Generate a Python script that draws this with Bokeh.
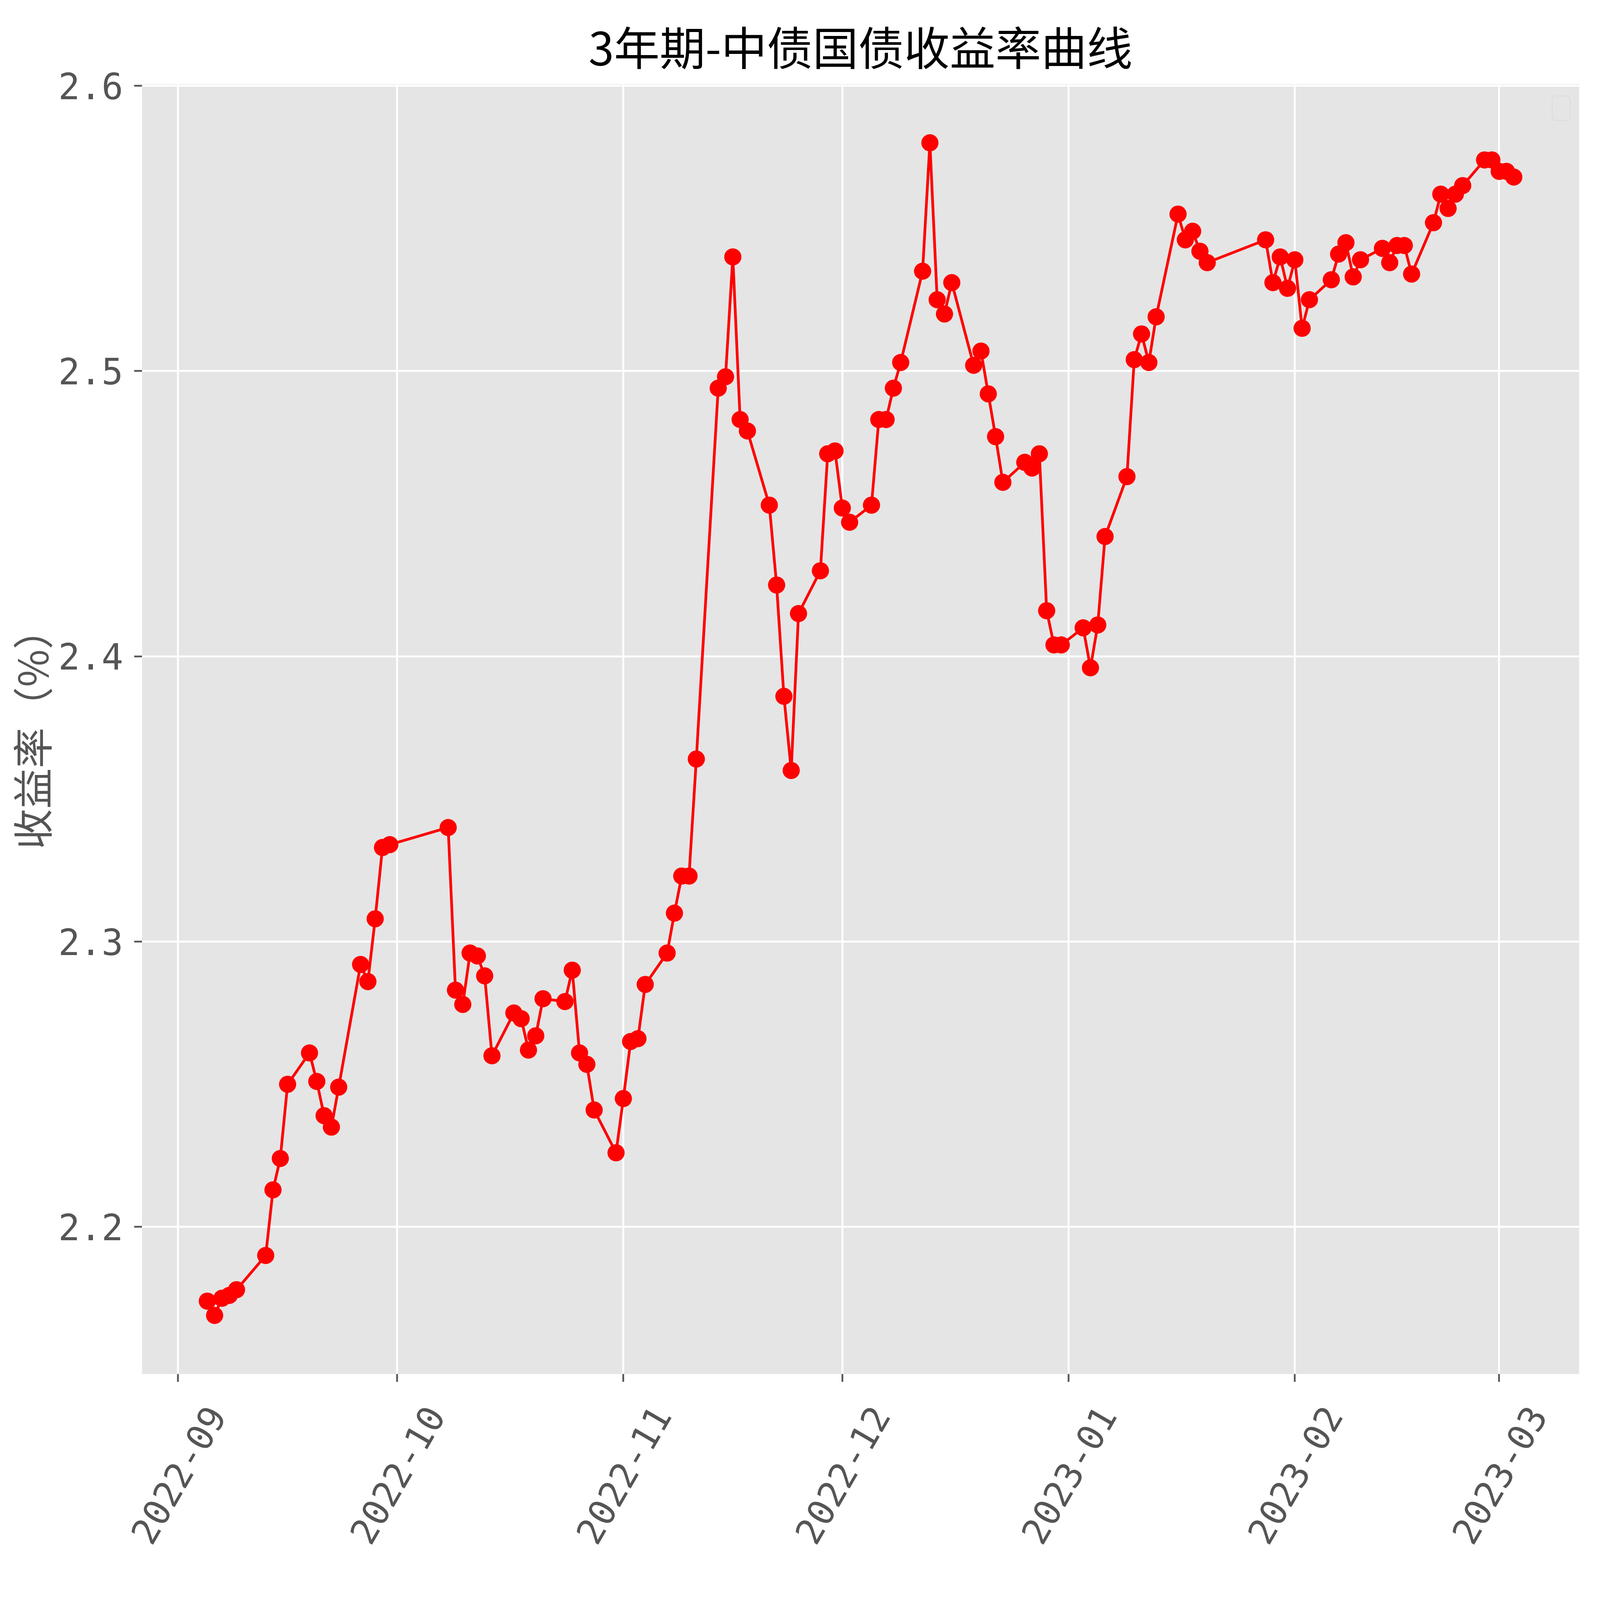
import math
import pandas as pd
from bokeh.plotting import figure
from bokeh.models import (FixedTicker, Range1d, BoxAnnotation, PrintfTickFormatter,
                          DatetimeAxis, DatetimeTickFormatter)
from bokeh.embed import file_html
from bokeh.resources import INLINE

# ---------------- data ----------------
dates = [
    "2022-09-05", "2022-09-06", "2022-09-07", "2022-09-08", "2022-09-09",
    "2022-09-13", "2022-09-14", "2022-09-15", "2022-09-16",
    "2022-09-19", "2022-09-20", "2022-09-21", "2022-09-22", "2022-09-23",
    "2022-09-26", "2022-09-27", "2022-09-28", "2022-09-29", "2022-09-30",
    "2022-10-08", "2022-10-09", "2022-10-10", "2022-10-11", "2022-10-12", "2022-10-13", "2022-10-14",
    "2022-10-17", "2022-10-18", "2022-10-19", "2022-10-20", "2022-10-21",
    "2022-10-24", "2022-10-25", "2022-10-26", "2022-10-27", "2022-10-28",
    "2022-10-31", "2022-11-01", "2022-11-02", "2022-11-03", "2022-11-04",
    "2022-11-07", "2022-11-08", "2022-11-09", "2022-11-10", "2022-11-11",
    "2022-11-14", "2022-11-15", "2022-11-16", "2022-11-17", "2022-11-18",
    "2022-11-21", "2022-11-22", "2022-11-23", "2022-11-24", "2022-11-25",
    "2022-11-28", "2022-11-29", "2022-11-30", "2022-12-01", "2022-12-02",
    "2022-12-05", "2022-12-06", "2022-12-07", "2022-12-08", "2022-12-09",
    "2022-12-12", "2022-12-13", "2022-12-14", "2022-12-15", "2022-12-16",
    "2022-12-19", "2022-12-20", "2022-12-21", "2022-12-22", "2022-12-23",
    "2022-12-26", "2022-12-27", "2022-12-28", "2022-12-29", "2022-12-30", "2022-12-31",
    "2023-01-03", "2023-01-04", "2023-01-05", "2023-01-06",
    "2023-01-09", "2023-01-10", "2023-01-11", "2023-01-12", "2023-01-13",
    "2023-01-16", "2023-01-17", "2023-01-18", "2023-01-19", "2023-01-20",
    "2023-01-28", "2023-01-29", "2023-01-30", "2023-01-31", "2023-02-01", "2023-02-02", "2023-02-03",
    "2023-02-06", "2023-02-07", "2023-02-08", "2023-02-09", "2023-02-10",
    "2023-02-13", "2023-02-14", "2023-02-15", "2023-02-16", "2023-02-17",
    "2023-02-20", "2023-02-21", "2023-02-22", "2023-02-23", "2023-02-24",
    "2023-02-27", "2023-02-28", "2023-03-01", "2023-03-02", "2023-03-03",
]
yields = [
    2.174, 2.169, 2.175, 2.176, 2.178,
    2.190, 2.213, 2.224, 2.250,
    2.261, 2.251, 2.239, 2.235, 2.249,
    2.292, 2.286, 2.308, 2.333, 2.334,
    2.340, 2.283, 2.278, 2.296, 2.295, 2.288, 2.260,
    2.275, 2.273, 2.262, 2.267, 2.280,
    2.279, 2.290, 2.261, 2.257, 2.241,
    2.226, 2.245, 2.265, 2.266, 2.285,
    2.296, 2.310, 2.323, 2.323, 2.364,
    2.494, 2.498, 2.540, 2.483, 2.479,
    2.453, 2.425, 2.386, 2.360, 2.415,
    2.430, 2.471, 2.472, 2.452, 2.447,
    2.453, 2.483, 2.483, 2.494, 2.503,
    2.535, 2.580, 2.525, 2.520, 2.531,
    2.502, 2.507, 2.492, 2.477, 2.461,
    2.468, 2.466, 2.471, 2.416, 2.404, 2.404,
    2.410, 2.396, 2.411, 2.442,
    2.463, 2.504, 2.513, 2.503, 2.519,
    2.555, 2.546, 2.549, 2.542, 2.538,
    2.546, 2.531, 2.540, 2.529, 2.539, 2.515, 2.525,
    2.532, 2.541, 2.545, 2.533, 2.539,
    2.543, 2.538, 2.544, 2.544, 2.534,
    2.552, 2.562, 2.557, 2.562, 2.565,
    2.574, 2.574, 2.570, 2.570, 2.568,
]
month_ticks = ["2022-09", "2022-10", "2022-11", "2022-12", "2023-01", "2023-02", "2023-03"]
y_ticks = [2.2, 2.3, 2.4, 2.5, 2.6]
title_text = "3年期-中债国债收益率曲线"
y_label = "收益率（%）"

# ---------------- layout (pixels) ----------------
W, H = 4076, 4076
ML, MR, MT, MB = 362, 34, 215, 559
FRAME_W = W - ML - MR
FRAME_H = H - MT - MB
TICK_PX = 92                  # tick label font size
TITLE_PX = 117
YLABEL_PX = 104
TICK_COLOR = "#555555"
MONO = "DejaVu Sans Mono"
CJK = "Noto Sans CJK SC"


def to_ms(d):
    return pd.Timestamp(d).value / 1e6


xs = [to_ms(d) for d in dates]
tick_ms = [to_ms(m + "-01") for m in month_ticks]

# matplotlib-like 5% margins
xspan = xs[-1] - xs[0]
x0, x1 = xs[0] - 0.05 * xspan, xs[-1] + 0.05 * xspan
yspan = max(yields) - min(yields)
y0, y1 = min(yields) - 0.05 * yspan, max(yields) + 0.05 * yspan

p = figure(
    width=W, height=H,
    x_axis_type="datetime",
    x_range=Range1d(x0, x1), y_range=Range1d(y0, y1),
    output_backend="svg", toolbar_location=None,
    min_border_left=ML, min_border_right=MR, min_border_top=MT, min_border_bottom=MB,
    title=title_text,
)
p.background_fill_color = "#E5E5E5"
p.border_fill_color = "white"
p.outline_line_color = None

# title
p.title.text_font = CJK
p.title.text_font_size = "%dpx" % TITLE_PX
p.title.text_font_style = "normal"
p.title.text_color = "black"
p.title.align = "center"
p.title.standoff = 30

# grid
p.xgrid.ticker = FixedTicker(ticks=tick_ms)
p.ygrid.ticker = FixedTicker(ticks=y_ticks)
for g in (p.xgrid, p.ygrid):
    g.grid_line_color = "white"
    g.grid_line_width = 5

# axes: common styling
ax_x = p.xaxis[0]
ax_y = p.yaxis[0]
for ax in (ax_x, ax_y):
    ax.axis_line_color = None
    ax.major_tick_line_color = TICK_COLOR
    ax.major_tick_line_width = 4.5
    ax.major_tick_in = 0
    ax.major_tick_out = 20
    ax.minor_tick_line_color = None

ax_y.ticker = FixedTicker(ticks=y_ticks)
ax_y.formatter = PrintfTickFormatter(format="%.1f")
ax_y.major_label_text_font = MONO
ax_y.major_label_text_font_size = "%dpx" % TICK_PX
ax_y.major_label_text_color = TICK_COLOR
ax_y.major_label_standoff = 28
ax_y.axis_label = y_label
ax_y.axis_label_text_font = CJK
ax_y.axis_label_text_font_size = "%dpx" % YLABEL_PX
ax_y.axis_label_text_font_style = "normal"
ax_y.axis_label_text_color = TICK_COLOR
ax_y.axis_label_standoff = -8

# main x axis: tick marks only
ax_x.ticker = FixedTicker(ticks=tick_ms)
ax_x.major_label_text_font_size = "1px"
ax_x.major_label_text_color = None
ax_x.major_label_standoff = 0

# second x axis carrying the rotated month labels; its ticks are nudged so the
# centre of each 60-degree label sits under its month tick (matplotlib style)
label_len = 7 * 0.602 * TICK_PX
px_per_ms = FRAME_W / (x1 - x0)
nudge = (label_len / 4.0) / px_per_ms
fmt = "%Y-%m"
ax_lab = DatetimeAxis(
    ticker=FixedTicker(ticks=[t + nudge for t in tick_ms]),
    formatter=DatetimeTickFormatter(
        milliseconds=fmt, seconds=fmt, minsec=fmt, minutes=fmt, hourmin=fmt,
        hours=fmt, days=fmt, months=fmt, years=fmt),
    major_label_orientation=math.pi / 3,
    major_label_text_font=MONO,
    major_label_text_font_size="%dpx" % TICK_PX,
    major_label_text_color=TICK_COLOR,
    major_label_standoff=70,
    axis_line_color=None,
    major_tick_line_color=None,
    minor_tick_line_color=None,
    major_tick_in=0, major_tick_out=0,
)
p.add_layout(ax_lab, "below")

# data
p.line(xs, yields, line_color="red", line_width=7)
p.scatter(xs, yields, size=44, fill_color="red", line_color=None)

# empty legend frame (top-right)
p.add_layout(BoxAnnotation(
    left=FRAME_W - 70, right=FRAME_W - 24,
    bottom=FRAME_H - 93, top=FRAME_H - 30,
    left_units="screen", right_units="screen", top_units="screen", bottom_units="screen",
    fill_color="#E5E5E5", fill_alpha=1.0,
    line_color="#CCCCCC", line_width=3, border_radius=11,
))

open("out.html", "w").write(file_html(p, INLINE))
